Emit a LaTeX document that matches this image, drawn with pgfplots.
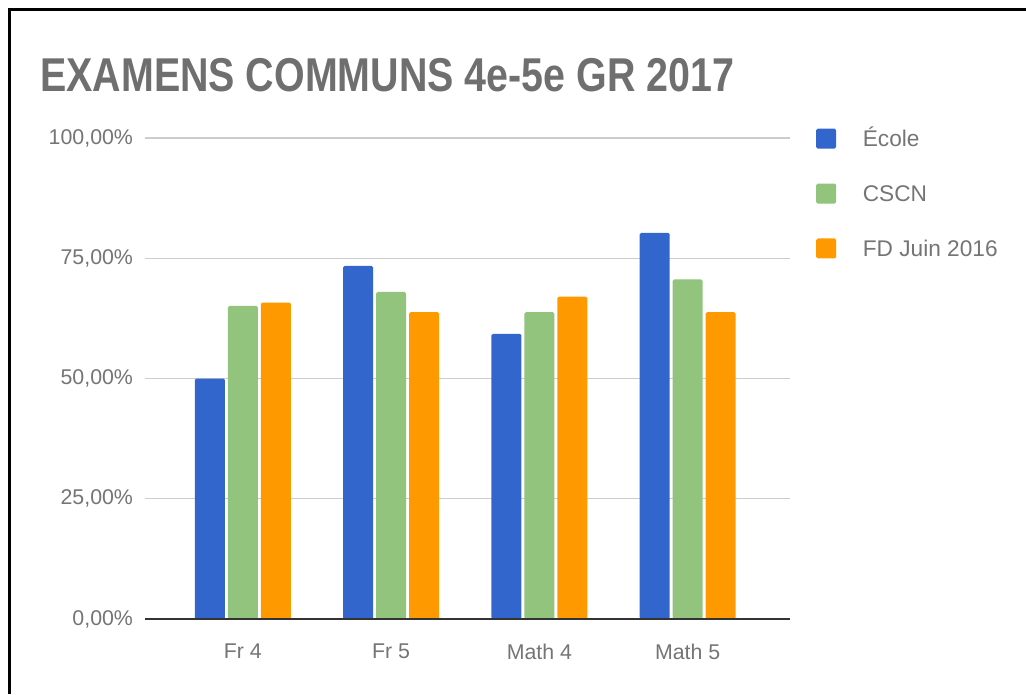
\documentclass[border=0pt]{standalone}
\usepackage{fontspec}
\setmainfont{Liberation Sans}
\usepackage{pgfplots}
\pgfplotsset{compat=1.18}
\definecolor{cBlue}{HTML}{3366CC}
\definecolor{cGreen}{HTML}{93C47D}
\definecolor{cOrange}{HTML}{FF9900}
\definecolor{cText}{HTML}{757575}
\definecolor{cTitle}{HTML}{6F6F6F}
\definecolor{cGrid}{HTML}{CCCCCC}
\definecolor{cBase}{HTML}{333333}
\begin{document}
\begin{tikzpicture}
\useasboundingbox (0,0) rectangle (769.5pt,520.5pt);
\fill[white] (0,0) rectangle (769.5pt,520.5pt);
% frame (top and left edges visible)
\draw[black, line width=1.6pt] (7.1pt,0) -- (7.1pt,513.4pt) -- (769.5pt,513.4pt);
% title
\node[anchor=base west, inner sep=0pt, text=cTitle] at (30pt,451.5pt)
  {\scalebox{0.83}[1]{\fontsize{35.6pt}{40pt}\selectfont\bfseries EXAMENS COMMUNS 4e-5e GR 2017}};
\begin{axis}[
  at={(108.75pt,56.25pt)}, anchor=south west,
  scale only axis, width=483.75pt, height=360.75pt,
  ymin=0, ymax=100, xmin=-0.66, xmax=3.69,
  ybar=2.25pt, bar width=22.5pt,
  xtick=data, xticklabels={Fr 4, Fr 5, Math 4, Math 5},
  ytick={0,25,50,75,100},
  yticklabels={{0,00\%},{25,00\%},{50,00\%},{75,00\%},{100,00\%}},
  ymajorgrids, grid style={cGrid, line width=0.8pt},
  axis line style={draw=none},
  major tick length=0pt,
  tick label style={font=\fontsize{16pt}{19pt}\selectfont, text=cText},
  xticklabel style={yshift=-15pt},
  yticklabel style={xshift=-5.5pt},
  legend style={at={(1.034,1.027)}, anchor=north west, draw=none, fill=none,
    font=\fontsize{17pt}{20pt}\selectfont, text=cText,
    nodes={text height=12pt, text depth=3.5pt, inner sep=2pt},
    row sep=21.7pt, column sep=18pt},
  legend cell align=left,
  legend image code/.code={\fill[#1, draw=none] (0pt,-5.75pt) rectangle (15pt,9.25pt);},
  every axis plot/.append style={draw=none, rounded corners=1.2pt},
]
\addplot[fill=cBlue] coordinates {(0,50.0) (1,73.4) (2,59.3) (3,80.3)};
\addplot[fill=cGreen] coordinates {(0,65.1) (1,68.0) (2,63.8) (3,70.6)};
\addplot[fill=cOrange] coordinates {(0,65.8) (1,63.8) (2,67.0) (3,63.8)};
\legend{École, CSCN, FD Juin 2016}
\draw[cBase, line width=1.5pt] (rel axis cs:0,0) -- (rel axis cs:1,0);
\end{axis}
\end{tikzpicture}
\end{document}
